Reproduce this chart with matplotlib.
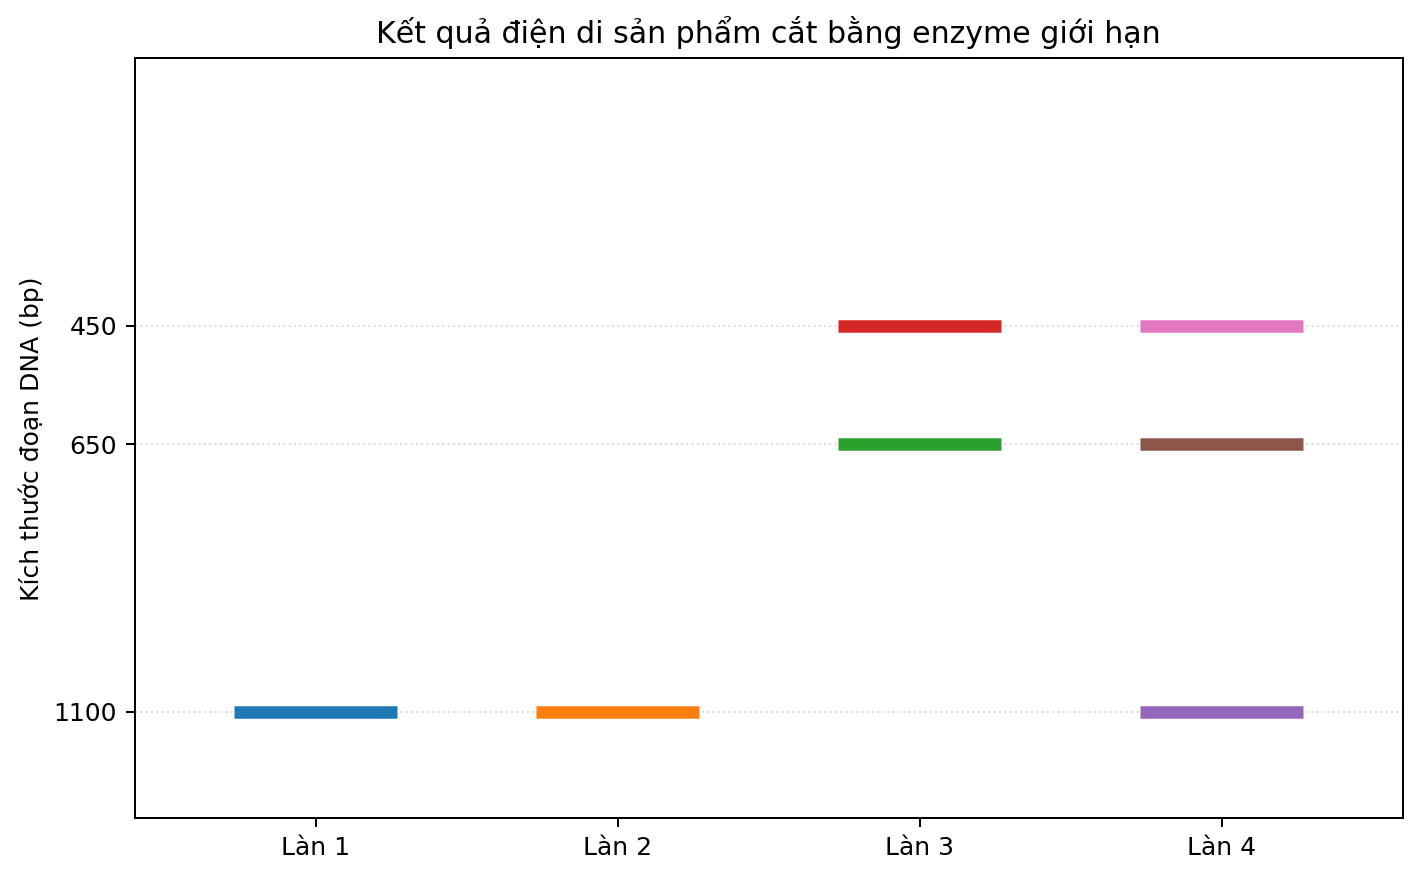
import matplotlib.pyplot as plt

# Du lieu dien di
lanes = ["Làn 1", "Làn 2", "Làn 3", "Làn 4"]
lane_bands = [[1100], [1100], [650, 450], [1100, 650, 450]]
tick_sizes = [450, 650, 1100]

DPI = 180
fig, ax = plt.subplots(figsize=(1421 / DPI, 878 / DPI), dpi=DPI)
fig.subplots_adjust(left=0.0947, right=0.9873, top=0.9334, bottom=0.0678)

# Cada banda con su propio color (ciclo por defecto)
for ii, bands in enumerate(lane_bands):
    x = ii + 1
    for size in bands:
        ax.plot([x - 0.27, x + 0.27], [size, size], linewidth=5, solid_capstyle='butt')

ax.set_xticks(range(1, len(lanes) + 1))
ax.set_xticklabels(lanes)
ax.set_xlim(0.4, 4.6)
ax.set_yticks(tick_sizes)
ax.set_ylim(1280, 0)
ax.set_ylabel("Kích thước đoạn DNA (bp)")
ax.set_title("Kết quả điện di sản phẩm cắt bằng enzyme giới hạn")
ax.grid(axis='y', linestyle=':', color='lightgray', alpha=0.8)
ax.set_axisbelow(True)

plt.savefig("out.png", dpi=DPI)
